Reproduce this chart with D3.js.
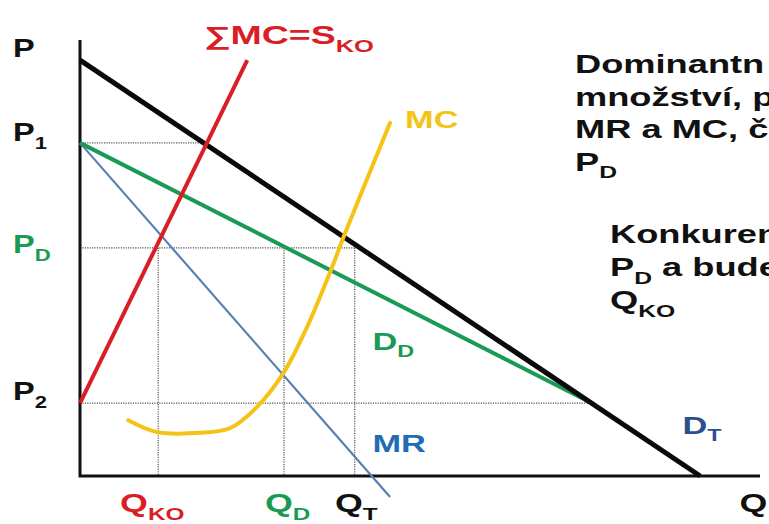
<!DOCTYPE html>
<html>
<head>
<meta charset="utf-8">
<script src="https://cdn.jsdelivr.net/npm/d3@7"></script>
<style>
  body { margin: 0; background: #fff; }
  svg { display: block; font-family: "Liberation Sans", Arial, sans-serif; font-weight: bold; }
</style>
</head>
<body>
<svg width="769" height="524"></svg>
<script>
// price levels (abstract units, 0..100)
var priceLevels = { P1: 76.4, PD: 52.3, P2: 16.7 };
// quantity levels
var qtyLevels = { QKO: 11.5, QD: 30, QT: 40.4 };

// curves as [q, p] points
var demandTotal = [[0, 95.4], [91.2, 0]];
var supplyKO = [[0, 16.7], [24.6, 95.4]];
var demandDom = [[0, 76.4], [75.3, 16.7]];
var marginalRev = [[0, 76.4], [45.6, -4.8]];
var marginalCost = [[7.1, 12.8], [11.3, 10.1], [17.6, 9.9], [22.1, 11], [26, 15.8],
                    [29.9, 23.6], [33.4, 34.2], [37.2, 48.4], [38.7, 54.6], [45.6, 81]];

// labels for price axis and quantity axis
var priceLabels = [
  { main: "P", sub: "", p: 96.1, color: "#111" },
  { main: "P", sub: "1", p: 76.8, color: "#111" },
  { main: "P", sub: "D", p: 51.1, color: "#1a9a55" },
  { main: "P", sub: "2", p: 17.4, color: "#111" }
];
var qtyLabels = [
  { main: "Q", sub: "KO", q: 5.9, color: "#d91e25" },
  { main: "Q", sub: "D", q: 27.2, color: "#1a9a55" },
  { main: "Q", sub: "T", q: 37.5, color: "#111" },
  { main: "Q", sub: "", q: 97, color: "#111" }
];
var curveLabels = [
  { main: "\u2211MC=S", sub: "KO", q: 18.2, p: 99, color: "#d91e25" },
  { main: "MC", sub: "", q: 47.8, p: 79.8, color: "#f4c315" },
  { main: "D", sub: "D", q: 43, p: 29, color: "#1a9a55" },
  { main: "MR", sub: "", q: 43, p: 5.5, color: "#1f6db3" },
  { main: "D", sub: "T", q: 88.6, p: 9.7, color: "#2b4f8c" }
];
// explanatory text, as much as shows before the right edge
var note1 = [
  [{ t: "Dominantn" }],
  [{ t: "mno\u017estv\u00ed, p" }],
  [{ t: "MR a MC, \u010d" }],
  [{ t: "P" }, { t: "D", sub: true }]
];
var note2 = [
  [{ t: "Konkuren" }],
  [{ t: "P" }, { t: "D", sub: true }, { t: " a bude" }],
  [{ t: "Q" }, { t: "KO", sub: true }]
];

var svg = d3.select("svg");
var x = d3.scaleLinear().domain([0, 100]).range([80, 760]);
var y = d3.scaleLinear().domain([0, 100]).range([476, 40]);
var line = d3.line().x(function(d) { return x(d[0]); }).y(function(d) { return y(d[1]); });
var curve = d3.line().curve(d3.curveCatmullRom).x(function(d) { return x(d[0]); }).y(function(d) { return y(d[1]); });

// dotted guide lines
var guides = [
  [[0, priceLevels.P1], [18.5, priceLevels.P1]],
  [[0, priceLevels.PD], [qtyLevels.QT, priceLevels.PD]],
  [[0, priceLevels.P2], [75.3, priceLevels.P2]],
  [[qtyLevels.QKO, priceLevels.PD], [qtyLevels.QKO, 0]],
  [[qtyLevels.QD, priceLevels.PD], [qtyLevels.QD, 0]],
  [[qtyLevels.QT, priceLevels.PD], [qtyLevels.QT, 0]]
];
svg.selectAll(".guide").data(guides).enter().append("path")
  .attr("class", "guide")
  .attr("d", line)
  .attr("fill", "none")
  .attr("stroke", "#555")
  .attr("stroke-width", 1.2)
  .attr("stroke-dasharray", "1.2,1.2");

// axes
svg.append("path").attr("d", line([[0, 100], [0, 0], [100, 0]]))
  .attr("fill", "none").attr("stroke", "#111").attr("stroke-width", 3);

// curves
svg.append("path").attr("d", line(marginalRev)).attr("fill", "none")
  .attr("stroke", "#5a7fb3").attr("stroke-width", 2.2);
svg.append("path").attr("d", line(demandDom)).attr("fill", "none")
  .attr("stroke", "#1a9a55").attr("stroke-width", 4);
svg.append("path").attr("d", line(demandTotal)).attr("fill", "none")
  .attr("stroke", "#0a0a0a").attr("stroke-width", 5);
svg.append("path").attr("d", line(supplyKO)).attr("fill", "none")
  .attr("stroke", "#d91e25").attr("stroke-width", 4);
svg.append("path").attr("d", curve(marginalCost)).attr("fill", "none")
  .attr("stroke", "#f4c315").attr("stroke-width", 4).attr("stroke-linecap", "round");

// text is stretched horizontally like in the original slide
function label(px, py, parts, size, color, sx) {
  var t = svg.append("text")
    .attr("transform", "translate(" + px + "," + py + ") scale(" + sx + ",1)")
    .attr("font-size", size).attr("fill", color);
  var down = false;
  parts.forEach(function(p) {
    var s = t.append("tspan").text(p.t);
    if (p.sub && !down) { s.attr("dy", size * 0.3).attr("font-size", size * 0.68); down = true; }
    else if (p.sub) { s.attr("font-size", size * 0.68); }
    else if (down) { s.attr("dy", -size * 0.3); down = false; }
  });
  return t;
}
function parts(d) {
  return d.sub ? [{ t: d.main }, { t: d.sub, sub: true }] : [{ t: d.main }];
}

priceLabels.forEach(function(d) { label(13, y(d.p), parts(d), 25, d.color, 1.3); });
qtyLabels.forEach(function(d) { label(x(d.q), 512, parts(d), 25, d.color, 1.43); });
curveLabels.forEach(function(d, i) { label(x(d.q), y(d.p), parts(d), i === 0 ? 25 : 24, d.color, i === 0 ? 1.5 : 1.43); });

note1.forEach(function(p, i) { label(575, 73 + i * 32.5, p, 25, "#111", 1.45); });
note2.forEach(function(p, i) { label(610, 243 + i * 33, p, 25, "#111", 1.45); });
</script>
</body>
</html>
